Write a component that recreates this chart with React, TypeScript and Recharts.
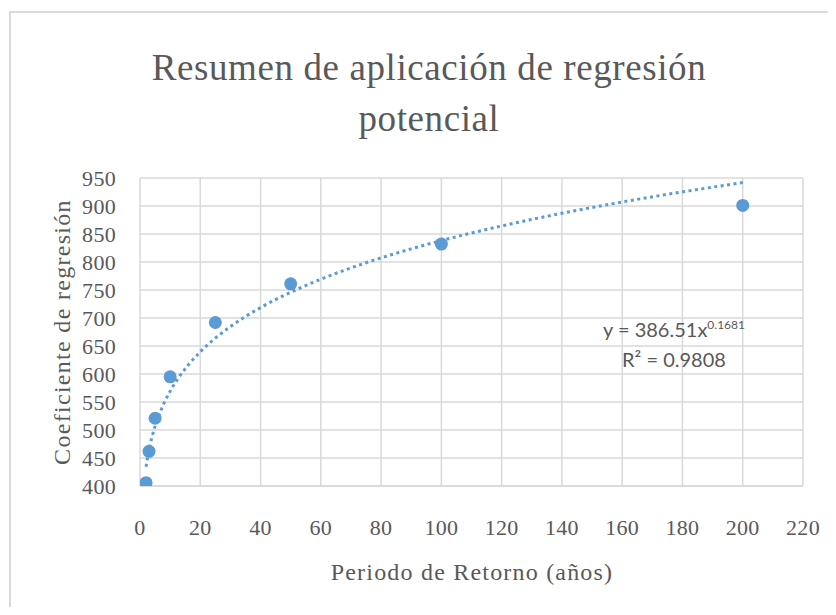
import React from "react";
import {
  ComposedChart,
  Scatter,
  Line,
  XAxis,
  YAxis,
  CartesianGrid,
} from "recharts";

// observed coefficients per return period
const periods = [2, 3, 5, 10, 25, 50, 100, 200];
const coefficients = [406, 462, 521, 595, 692, 761, 832, 901];

// power trendline y = a * x^b, as printed on the chart
const trendA = 386.51;
const trendB = 0.1681;
const trendR2 = "0.9808";
const trendX = [2, 3, 4, 5, 6, 8, 10, 13, 16, 20, 25, 30, 40, 50, 60, 75, 90, 100, 120, 140, 160, 180, 200];

const xTicks = [0, 20, 40, 60, 80, 100, 120, 140, 160, 180, 200, 220];
const yTicks = [400, 450, 500, 550, 600, 650, 700, 750, 800, 850, 900, 950];

const points = periods.map((x, i) => ({ x, y: coefficients[i] }));
const trend = trendX.map((x) => ({ x, y: trendA * Math.pow(x, trendB) }));

const BLUE = "#5B9BD5";
const TEXT = "#595959";
const GRID = "#d9d9d9";
const SERIF = "'Liberation Serif', 'DejaVu Serif', serif";

const Dot = (props: any) => {
  const { cx, cy } = props;
  if (cx == null || cy == null) return null;
  return <circle cx={cx} cy={cy} r={6.5} fill={BLUE} />;
};

export default function App() {
  return (
    <div
      style={{
        position: "relative",
        width: 836,
        height: 615,
        margin: -8,
        overflow: "hidden",
        background: "#fff",
      }}
    >
      <div
        style={{
          position: "absolute",
          left: 9,
          top: 11,
          width: 900,
          height: 700,
          border: `2px solid ${GRID}`,
        }}
      />
      <div
        style={{
          position: "absolute",
          left: 0,
          right: 0,
          top: 42,
          textAlign: "center",
          paddingLeft: 22,
          fontFamily: SERIF,
          fontSize: 37,
          letterSpacing: 0.6,
          lineHeight: "51px",
          color: TEXT,
        }}
      >
        Resumen de aplicación de regresión
        <br />
        potencial
      </div>
      <div style={{ position: "absolute", left: 0, top: 0 }}>
        <ComposedChart
          width={836}
          height={615}
          margin={{ top: 178, right: 33, bottom: 99, left: 0 }}
        >
          <CartesianGrid stroke={GRID} strokeWidth={1.5} />
          <XAxis
            type="number"
            dataKey="x"
            domain={[0, 220]}
            ticks={xTicks}
            interval={0}
            tickSize={0}
            tickMargin={33}
            axisLine={{ stroke: GRID, strokeWidth: 1.5 }}
            tick={{ fill: TEXT, fontFamily: SERIF, fontSize: 22, letterSpacing: 0.3 }}
            allowDataOverflow
          />
          <YAxis
            type="number"
            dataKey="y"
            width={140}
            domain={[400, 950]}
            ticks={yTicks}
            interval={0}
            tickSize={0}
            tickMargin={24}
            axisLine={false}
            tick={{ fill: TEXT, fontFamily: SERIF, fontSize: 22, letterSpacing: 0.3 }}
            allowDataOverflow
          />
          <Line
            data={trend}
            dataKey="y"
            type="monotone"
            stroke={BLUE}
            strokeWidth={3}
            strokeDasharray="3 3.5"
            dot={false}
            activeDot={false}
            isAnimationActive={false}
          />
          <Scatter
            data={points}
            dataKey="y"
            fill={BLUE}
            shape={Dot}
            isAnimationActive={false}
          />
        </ComposedChart>
      </div>
      <div
        style={{
          position: "absolute",
          left: 62,
          top: 332,
          transform: "translate(-50%, -50%) rotate(-90deg)",
          whiteSpace: "nowrap",
          fontFamily: SERIF,
          fontSize: 24,
          letterSpacing: 1.3,
          color: TEXT,
        }}
      >
        Coeficiente de regresión
      </div>
      <div
        style={{
          position: "absolute",
          left: 472,
          top: 572,
          transform: "translate(-50%, -50%)",
          whiteSpace: "nowrap",
          fontFamily: SERIF,
          fontSize: 24,
          letterSpacing: 1.2,
          color: TEXT,
        }}
      >
        Periodo de Retorno (años)
      </div>
      <div
        style={{
          position: "absolute",
          left: 594,
          top: 310,
          width: 160,
          textAlign: "center",
          fontFamily: "Lato, 'Open Sans', sans-serif",
          fontSize: 20,
          lineHeight: "30px",
          color: TEXT,
        }}
      >
        <div>
          y = {trendA}x<sup style={{ fontSize: 12 }}>{trendB}</sup>
        </div>
        <div>R² = {trendR2}</div>
      </div>
    </div>
  );
}
